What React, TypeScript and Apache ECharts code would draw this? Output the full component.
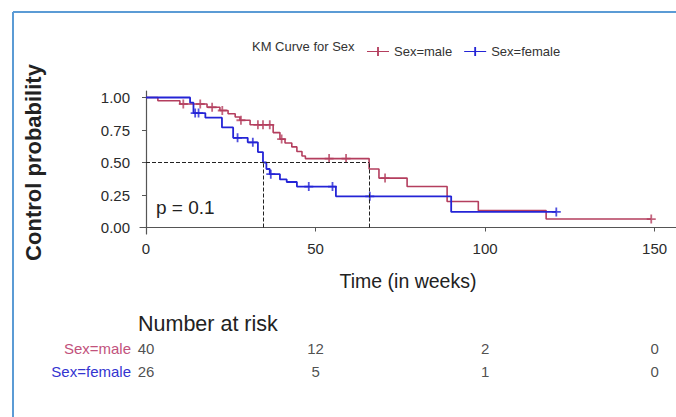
import React, { useEffect, useRef } from "react";
import * as echarts from "echarts";

// ---- Data ----
const maleTimes = [0, 3.5, 10, 18, 21.8, 24.2, 26.3, 27.7, 30.7, 37.5, 39.5, 41, 43, 44.5, 46, 47, 65.8, 68.7, 77, 88.8, 98, 118, 149];
const maleSurv = [1, 0.975, 0.95, 0.925, 0.9, 0.875, 0.85, 0.825, 0.79, 0.73, 0.68, 0.65, 0.62, 0.585, 0.55, 0.53, 0.45, 0.38, 0.315, 0.2, 0.13, 0.065, 0.065];
const maleCensor = [11, 16, 19.5, 22.5, 28, 33, 34.5, 36.5, 40, 54, 59, 70.5, 149];

const femaleTimes = [0, 13, 14, 17.5, 22.4, 25.7, 30, 33, 34.5, 35.5, 36.5, 39.5, 41.5, 44.5, 56, 90, 121];
const femaleSurv = [1, 0.96, 0.88, 0.845, 0.77, 0.69, 0.655, 0.58, 0.5, 0.45, 0.41, 0.37, 0.35, 0.315, 0.24, 0.12, 0.12];
const femaleCensor = [14.5, 15.5, 27, 31.5, 36.8, 48, 55, 66, 121];

const groups = ["Sex=male", "Sex=female"];
const xTicks = [0, 50, 100, 150];
const yTicks = [0, 0.25, 0.5, 0.75, 1];
const riskTimes = [0, 50, 100, 150];
const riskMale = [40, 12, 2, 0];
const riskFemale = [26, 5, 1, 0];
const pValueText = "p = 0.1";

const MALE = "#B43E5E";
const FEMALE = "#2424D6";
const FONT = "'Liberation Sans', Arial, sans-serif";
const PLUS = "path://M4,0H6V4H10V6H6V10H4V6H0V4H4Z";

function stepAt(times: number[], surv: number[], t: number) {
  let s = surv[0];
  for (let i = 0; i < times.length; i++) if (times[i] <= t) s = surv[i];
  return s;
}
function median(times: number[], surv: number[]) {
  for (let i = 0; i < times.length; i++) if (surv[i] <= 0.5) return times[i];
  return NaN;
}

export default function App() {
  const ref = useRef<HTMLDivElement>(null);
  useEffect(() => {
    if (!ref.current) return;
    const chart = echarts.init(ref.current, undefined, { renderer: "svg" });
    const mMed = median(maleTimes, maleSurv);
    const fMed = median(femaleTimes, femaleSurv);
    const xMin = -1.77, xMax = 156.3;
    const dashed = { type: "dashed" as const, color: "#222", width: 1 };
    chart.setOption({
      animation: false,
      backgroundColor: "#fff",
      textStyle: { fontFamily: FONT },
      grid: [
        { left: 140, right: 0, top: 91, height: 143 },
        { left: 140, right: 0, top: 337, height: 46 },
      ],
      legend: {
        left: 362,
        top: 40,
        data: groups,
        itemWidth: 22,
        itemHeight: 10,
        itemGap: 12,
        textStyle: { fontSize: 13, color: "#333", fontFamily: FONT },
        icon: "path://M0,4.5H24V5.5H0Z M11,0H13V10H11Z",
      },
      xAxis: [
        {
          type: "value", gridIndex: 0, min: xMin, max: xMax,
          axisLine: { show: true, lineStyle: { color: "#555", width: 1.2 } },
          axisTick: { show: true, length: 4, customValues: xTicks, lineStyle: { color: "#555" } },
          axisLabel: { customValues: xTicks, fontSize: 15, color: "#2b2b2b", margin: 7 },
          splitLine: { show: false },
          name: "Time (in weeks)", nameLocation: "middle", nameGap: 37,
          nameTextStyle: { fontSize: 19.5, color: "#222" },
        },
        { type: "value", gridIndex: 1, min: xMin, max: xMax, show: false },
      ],
      yAxis: [
        {
          type: "value", gridIndex: 0, min: -0.05, max: 1.05,
          axisLine: { show: true, lineStyle: { color: "#555", width: 1.2 } },
          axisTick: { show: true, length: 4, customValues: yTicks, lineStyle: { color: "#555" } },
          axisLabel: { customValues: yTicks, fontSize: 15, color: "#2b2b2b", margin: 10, formatter: (v: number) => v.toFixed(2) },
          splitLine: { show: false },
          name: "Control probability", nameLocation: "middle", nameGap: 96, nameRotate: 90,
          nameTextStyle: { fontSize: 22, fontWeight: "bold", color: "#222" },
        },
        {
          type: "category", gridIndex: 1, data: groups, inverse: true,
          axisLine: { show: false }, axisTick: { show: false },
          axisLabel: {
            margin: 9, fontSize: 15,
            formatter: (v: string) => (v === groups[0] ? `{m|${v}}` : `{f|${v}}`),
            rich: { m: { color: "#C2527C", fontSize: 15 }, f: { color: "#3434D0", fontSize: 15 } },
          },
        },
      ],
      series: [
        {
          name: groups[0], type: "line", step: "end", showSymbol: false, symbol: "none",
          data: maleTimes.map((t, i) => [t, maleSurv[i]]),
          lineStyle: { color: MALE, width: 1.6 }, itemStyle: { color: MALE },
          markLine: {
            silent: true, symbol: "none", label: { show: false }, lineStyle: dashed,
            data: [
              [{ coord: [0, 0.5] }, { coord: [mMed, 0.5] }],
              [{ coord: [mMed, 0] }, { coord: [mMed, 0.5] }],
              [{ coord: [fMed, 0] }, { coord: [fMed, 0.5] }],
            ],
          },
        },
        {
          name: groups[1], type: "line", step: "end", showSymbol: false, symbol: "none",
          data: femaleTimes.map((t, i) => [t, femaleSurv[i]]),
          lineStyle: { color: FEMALE, width: 1.8 }, itemStyle: { color: FEMALE },
        },
        {
          name: "male censored", type: "scatter", symbol: PLUS, symbolSize: 9,
          data: maleCensor.map((t) => [t, stepAt(maleTimes, maleSurv, t)]),
          itemStyle: { color: MALE },
        },
        {
          name: "female censored", type: "scatter", symbol: PLUS, symbolSize: 9,
          data: femaleCensor.map((t) => [t, stepAt(femaleTimes, femaleSurv, t)]),
          itemStyle: { color: FEMALE },
        },
        {
          name: "risk", type: "scatter", xAxisIndex: 1, yAxisIndex: 1, symbolSize: 0.1,
          itemStyle: { color: "transparent" },
          data: [
            ...riskTimes.map((t, i) => [t, groups[0], riskMale[i]]),
            ...riskTimes.map((t, i) => [t, groups[1], riskFemale[i]]),
          ],
          label: { show: true, position: "inside", formatter: (p: any) => String(p.value[2]), color: "#222", fontSize: 15 },
        },
      ],
      graphic: [
        { type: "line", shape: { x1: 13, y1: 12, x2: 676, y2: 12 }, style: { stroke: "#5B9BD5", lineWidth: 2 } },
        { type: "line", shape: { x1: 13, y1: 12, x2: 13, y2: 417 }, style: { stroke: "#5B9BD5", lineWidth: 2 } },
        { type: "text", x: 252, y: 46, style: { text: "KM Curve for Sex", fontSize: 13, fill: "#333", verticalAlign: "middle", fontFamily: FONT } },
        { type: "text", x: 156, y: 207, style: { text: pValueText, fontSize: 19, fill: "#222", verticalAlign: "middle", fontFamily: FONT } },
        { type: "text", x: 138, y: 324, style: { text: "Number at risk", fontSize: 21.5, fill: "#222", verticalAlign: "middle", fontFamily: FONT } },
      ],
    });
    return () => chart.dispose();
  }, []);
  return <div ref={ref} style={{ position: "fixed", left: 0, top: 0, width: 676, height: 417 }} />;
}
